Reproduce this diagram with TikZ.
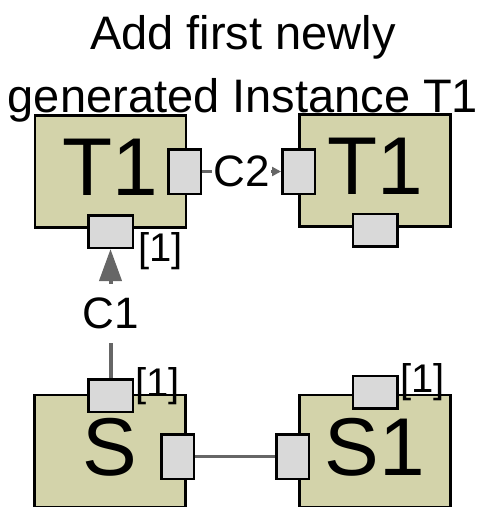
\documentclass[tikz,border=0pt]{standalone}
\usepackage{fontspec}
\setmainfont{Liberation Sans}
\usetikzlibrary{arrows.meta}
\definecolor{khaki}{HTML}{D3D3AA}
\definecolor{portgray}{HTML}{D9D9D9}
\definecolor{conngray}{HTML}{666666}

\begin{document}
\begin{tikzpicture}[
    x=1pt, y=-1pt,
    block/.style={draw, line width=2.5pt, fill=khaki, minimum width=151pt, minimum height=112pt, text depth=8pt, font=\fontsize{82}{82}\selectfont},
    hport/.style={draw, line width=2.5pt, fill=portgray, minimum width=44.5pt, minimum height=32.5pt, inner sep=0pt},
    vport/.style={draw, line width=2.5pt, fill=portgray, minimum width=32.5pt, minimum height=44.5pt, inner sep=0pt},
    tag/.style={inner sep=0pt, font=\fontsize{40}{40}\selectfont},
    conn/.style={draw=conngray, line width=3pt},
    arrow/.style={conn, line width=4pt, -{Triangle[length=32pt, width=22pt]}},
    lbl/.style={fill=white, inner xsep=1pt, inner ysep=14pt, font=\fontsize{44}{44}\selectfont}
]
\useasboundingbox (0,0) rectangle (479,507);
\clip (0,0) rectangle (479,507);
\node[align=center, inner sep=0pt, font=\fontsize{47}{63}\selectfont] (title) at (243,69) {Add first newly\\generated Instance T1};
% instances
\node[block] (t1a) at (110.5,171.5) {T1};
\node[block] (t1b) at (375,170.5) {T1};
\node[block] (s) at (110,451) {S};
\node[block] (s1) at (375,451) {S1};
% ports
\node[vport] (t1aR) at (184.5,171.5) {};
\node[vport] (t1bL) at (298.5,171.5) {};
\node[hport] (t1aB) at (110.5,231.5) {};
\node[hport] (t1bB) at (375,230) {};
\node[hport] (sT) at (110.5,395.5) {};
\node[hport] (s1T) at (375,392) {};
\node[vport] (sR) at (177.5,456.5) {};
\node[vport] (s1L) at (292.5,456.5) {};
% multiplicities
\node[tag] (m1) at (160.5,251) {[1]};
\node[tag] (m2) at (157.5,386) {[1]};
\node[tag] (m3) at (422.5,382) {[1]};
% connectors
\draw[arrow] (sT) -- node[lbl] (c1) {C1} (t1aB);
\draw[conn, -{Triangle[length=9pt, width=9pt]}] (t1aR) -- node[lbl] (c2) {C2} (t1bL);
\draw[conn] (sR) -- (s1L);
\end{tikzpicture}
\end{document}
